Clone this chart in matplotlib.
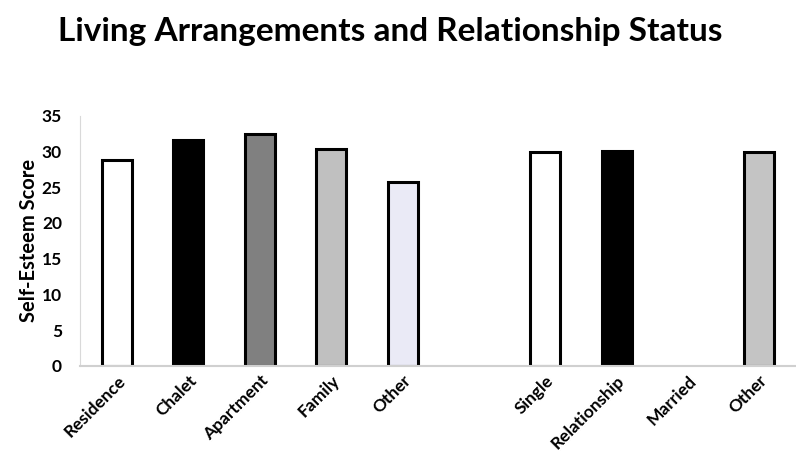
import numpy as np
import matplotlib.pyplot as plt

plt.rcParams['font.family'] = ['Lato', 'DejaVu Sans']

labels = ["Residence", "Chalet", "Apartment", "Family", "Other",
          "", "Single", "Relationship", "Married", "Other"]
scores = [28.8, 31.6, 32.4, 30.3, 25.7, 0, 29.9, 30.1, 0, 30.0]
colors = ["white", "black", "#808080", "#c0c0c0", "#eaeaf6",
          "white", "white", "black", "white", "#c4c4c4"]
shown = [True, True, True, True, True, False, True, True, False, True]

fig = plt.figure(figsize=(7.96, 4.58), dpi=100)
ax = fig.add_axes([0.1005, 0.2015, 0.9, 0.5455])

x = np.arange(len(labels))
for i in range(len(labels)):
    if shown[i]:
        ax.bar(x[i], scores[i], width=0.42, color=colors[i],
               edgecolor="black", linewidth=2.2)

ax.set_xlim(-0.52, 9.52)
ax.set_ylim(0, 35)
ax.set_yticks(range(0, 36, 5))
ax.tick_params(axis="y", length=0, labelsize=12.5, pad=13)
for t in ax.get_yticklabels():
    t.set_fontweight("bold")

ax.set_xticks(x)
ax.set_xticklabels(labels, rotation=45, ha="right", rotation_mode="anchor",
                   fontsize=12.5, fontweight="bold")
ax.tick_params(axis="x", length=0, pad=5)

for s in ["top", "right"]:
    ax.spines[s].set_visible(False)
ax.spines["left"].set_color("#d9d9d9")
ax.spines["bottom"].set_color("#d0d0d0")
ax.spines["bottom"].set_linewidth(1.5)

ax.set_ylabel("Self-Esteem Score", fontsize=14.5, fontweight="bold", labelpad=2)

fig.suptitle("Living Arrangements and Relationship Status",
             fontsize=24, fontweight="bold", x=0.49, y=0.962)

fig.savefig("out.png", dpi=100)
